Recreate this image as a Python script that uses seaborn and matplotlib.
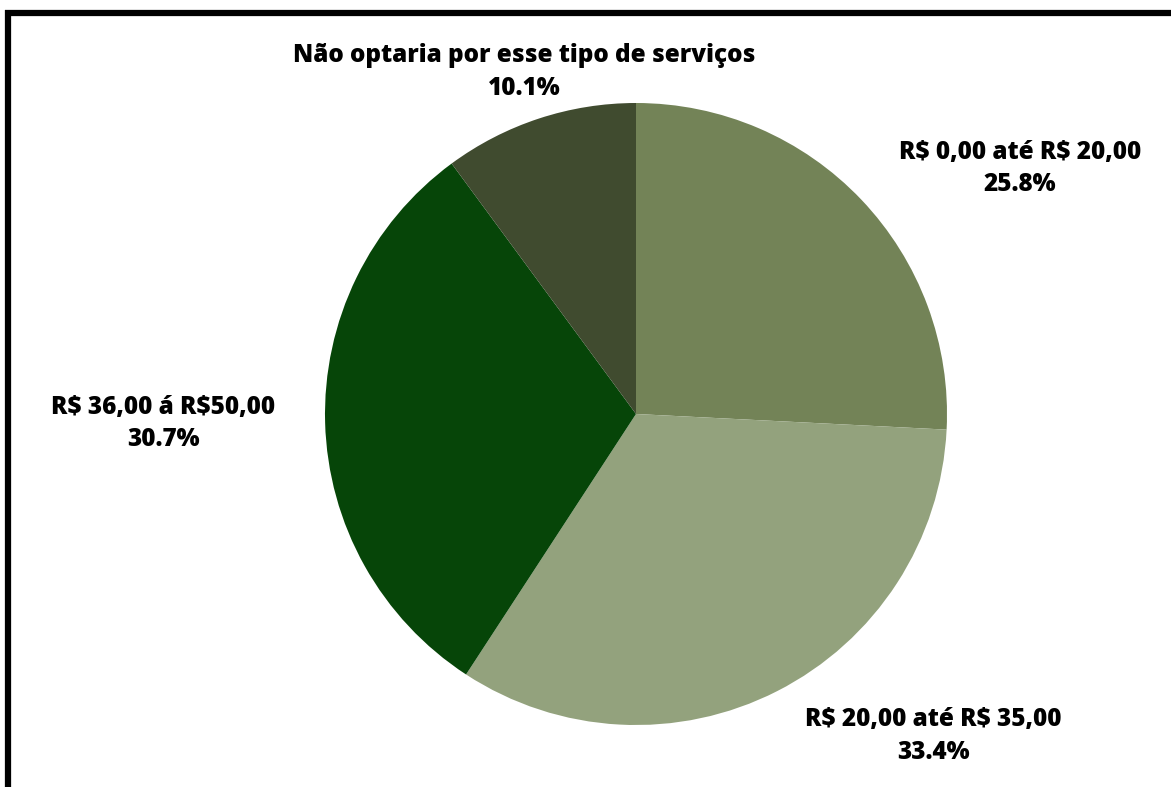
import matplotlib.pyplot as plt
from matplotlib.lines import Line2D
import seaborn as sns

categories = ["R$ 0,00 até R$ 20,00", "R$ 20,00 até R$ 35,00",
              "R$ 36,00 á R$50,00", "Não optaria por esse tipo de serviços"]
shares = [25.8, 33.4, 30.7, 10.1]
colors = ["#738357", "#93a27d", "#064508", "#404b2f"]

# where each label block sits, in units of pie radius
label_pos = [(1.235, 0.79), (0.955, -1.035), (-1.52, -0.03), (-0.36, 1.10)]

sns.set_theme(style="white")
plt.rcParams['font.family'] = ['Open Sans', 'DejaVu Sans']

W, H = 1171, 787
fig = plt.figure(figsize=(W / 100, H / 100), dpi=100)
cx, cy, r = 636, 414, 311
ax = fig.add_axes([(cx - r) / W, (H - cy - r) / H, 2 * r / W, 2 * r / H])

wedges, texts = ax.pie(shares, colors=colors, startangle=90, counterclock=False,
                       radius=1, wedgeprops=dict(linewidth=0))
ax.set_xlim(-1, 1)
ax.set_ylim(-1, 1)
ax.set_aspect("auto")
ax.axis("off")

for name, val, (x, y) in zip(categories, shares, label_pos):
    ax.text(x, y, f"{name}\n{val:.1f}%", ha="center", va="center",
            fontsize=17.5, fontweight=800, color="black", linespacing=1.4,
            parse_math=False)

# frame cut at right/bottom, like the screenshot
fig.add_artist(Line2D([5 / W, 1.0], [1 - 13 / H, 1 - 13 / H], color="black",
                      linewidth=4.5, solid_capstyle="butt",
                      transform=fig.transFigure))
fig.add_artist(Line2D([8 / W, 8 / W], [0, 1 - 10 / H], color="black",
                      linewidth=4.5, solid_capstyle="butt",
                      transform=fig.transFigure))

fig.savefig("out.png", dpi=100)
